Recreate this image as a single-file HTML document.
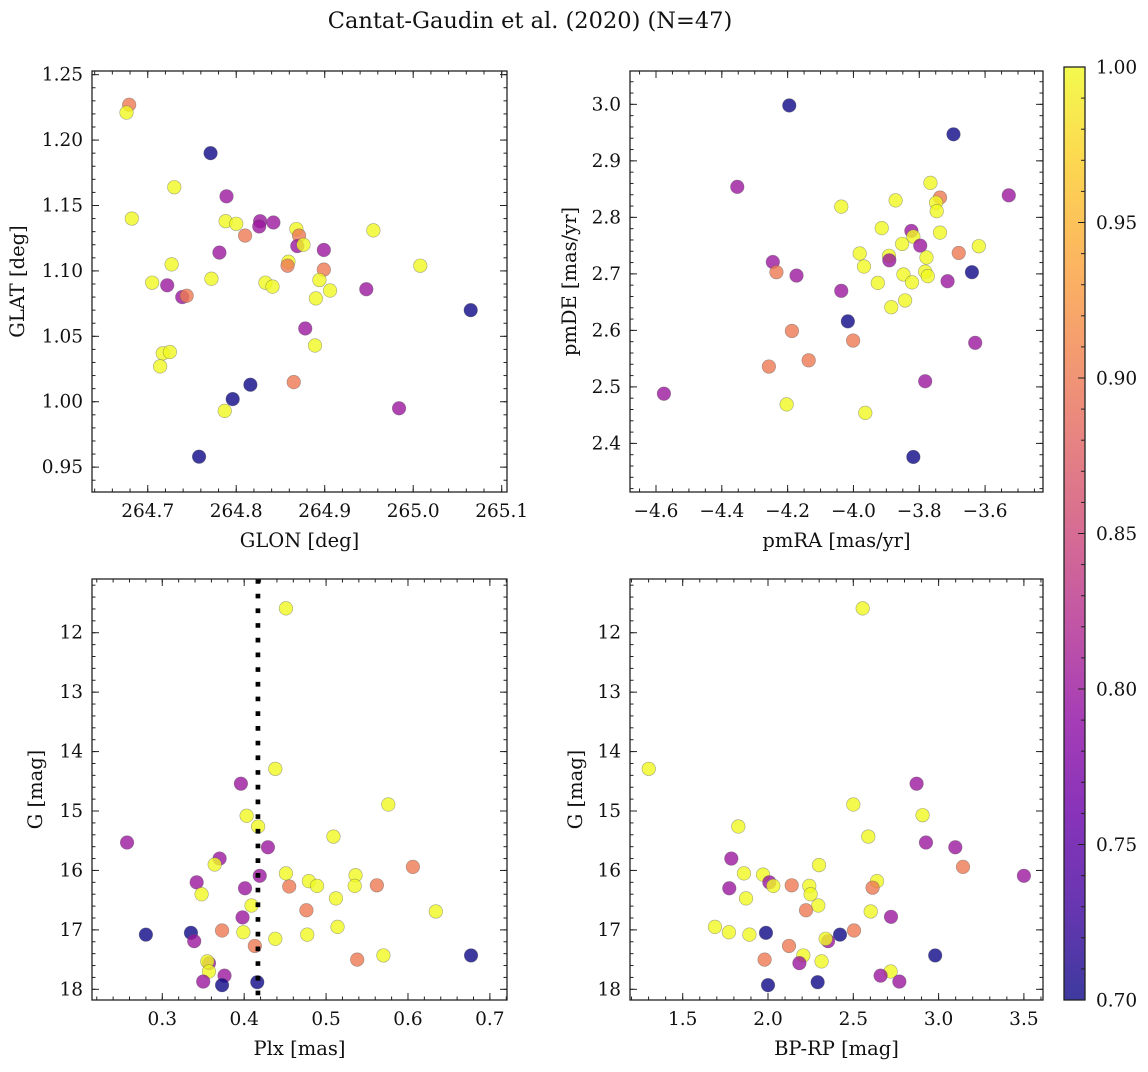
<!DOCTYPE html>
<html><head><meta charset="utf-8">
<style>
html,body{margin:0;padding:0;background:#fff;}
svg text{font-family:"DejaVu Serif","Liberation Serif",serif;fill:#111;}
</style></head>
<body>
<svg id="fig" width="1148" height="1067" viewBox="0 0 1148 1067" xmlns="http://www.w3.org/2000/svg">
<defs>
<linearGradient id="plasma" x1="0" y1="1" x2="0" y2="0">
<stop offset="0" stop-color="#0d0887"/><stop offset="0.1" stop-color="#41049d"/><stop offset="0.2" stop-color="#6a00a8"/><stop offset="0.3" stop-color="#8f0da4"/><stop offset="0.4" stop-color="#b12a90"/><stop offset="0.5" stop-color="#cc4778"/><stop offset="0.6" stop-color="#e16462"/><stop offset="0.7" stop-color="#f2844b"/><stop offset="0.8" stop-color="#fca636"/><stop offset="0.9" stop-color="#fcce25"/><stop offset="1" stop-color="#f0f921"/>
</linearGradient>
</defs>
<text x="530" y="28" font-size="22.5" text-anchor="middle">Cantat-Gaudin et al. (2020) (N=47)</text>
</svg>
<script>
// ---- data ----
const glon = [264.679,264.676,264.771,264.730,264.789,264.682,264.788,264.800,264.827,264.826,264.842,264.810,264.868,264.871,264.869,264.876,264.899,264.781,264.727,264.859,264.858,265.008,264.899,264.955,264.705,264.722,264.772,264.833,264.841,264.894,264.906,264.739,264.744,264.947,264.890,265.065,264.878,264.889,264.717,264.725,264.714,264.816,264.865,264.796,264.787,264.984,264.758];
const glat = [1.227,1.221,1.190,1.164,1.157,1.140,1.138,1.136,1.138,1.134,1.137,1.127,1.132,1.127,1.119,1.120,1.116,1.114,1.105,1.107,1.104,1.104,1.101,1.131,1.091,1.089,1.094,1.091,1.088,1.093,1.085,1.080,1.081,1.086,1.079,1.070,1.056,1.043,1.037,1.038,1.027,1.013,1.015,1.002,0.993,0.995,0.958];
const prob1 = [0.9,1,0.7,1,0.8,1,1,1,0.8,0.8,0.8,0.9,1,0.9,0.8,1,0.8,0.8,1,1,0.9,1,0.9,1,1,0.8,1,1,1,1,1,0.8,0.9,0.8,1,0.7,0.8,1,1,1,1,0.7,0.9,0.7,1,0.8,0.7];

const pmra = [-4.195,-3.696,-4.353,-3.766,-3.737,-3.528,-3.872,-4.037,-3.749,-3.747,-3.914,-3.824,-3.818,-3.737,-3.852,-3.797,-3.619,-3.981,-3.892,-3.891,-3.778,-4.245,-4.234,-3.680,-3.968,-4.173,-3.848,-3.782,-3.774,-3.640,-3.926,-3.822,-3.714,-4.037,-3.843,-3.885,-4.017,-4.187,-4.001,-3.630,-4.257,-4.136,-3.782,-4.576,-4.203,-3.964,-3.818];
const pmde = [2.998,2.947,2.854,2.861,2.835,2.839,2.830,2.819,2.826,2.811,2.781,2.776,2.766,2.773,2.753,2.750,2.749,2.736,2.732,2.724,2.729,2.721,2.703,2.737,2.713,2.697,2.699,2.704,2.696,2.703,2.684,2.685,2.687,2.670,2.653,2.641,2.616,2.599,2.582,2.578,2.536,2.547,2.510,2.488,2.469,2.454,2.376];
const prob2 = [0.7,0.7,0.8,1,0.9,0.8,1,1,1,1,1,0.8,1,1,1,0.8,1,1,1,0.8,1,0.8,0.9,0.9,1,0.8,1,1,1,0.7,1,1,0.8,0.8,1,1,0.7,0.9,0.9,0.8,0.9,0.9,0.8,0.8,1,1,0.7];

const plx = [0.451,0.438,0.396,0.576,0.403,0.417,0.509,0.257,0.429,0.370,0.364,0.606,0.451,0.419,0.536,0.342,0.479,0.489,0.455,0.535,0.562,0.401,0.348,0.512,0.409,0.476,0.634,0.398,0.514,0.280,0.335,0.373,0.399,0.477,0.339,0.438,0.413,0.677,0.570,0.538,0.357,0.355,0.357,0.376,0.350,0.373,0.416];
const gmag3 = [11.59,14.29,14.54,14.89,15.08,15.26,15.43,15.53,15.61,15.80,15.90,15.94,16.05,16.09,16.08,16.20,16.18,16.26,16.27,16.26,16.25,16.30,16.40,16.47,16.59,16.67,16.69,16.79,16.95,17.08,17.05,17.01,17.04,17.08,17.19,17.15,17.27,17.43,17.43,17.50,17.56,17.53,17.70,17.77,17.87,17.93,17.88];
const prob3 = [1,1,0.8,1,1,1,1,0.8,0.8,0.8,1,0.9,1,0.8,1,0.8,1,1,0.9,1,0.9,0.8,1,1,1,0.9,1,0.8,1,0.7,0.7,0.9,1,1,0.8,1,0.9,0.7,1,0.9,0.8,1,1,0.8,0.8,0.7,0.7];
const plxLine = 0.4168;

const bprp = [2.555,1.301,2.871,2.500,2.906,1.826,2.588,2.926,3.098,1.785,2.299,3.143,1.859,3.500,1.971,2.008,2.031,1.773,2.139,2.242,2.639,2.613,2.250,1.871,2.295,2.223,2.602,2.721,1.689,1.771,1.891,1.988,2.422,2.504,2.352,2.338,2.123,2.980,2.207,1.980,2.184,2.314,2.719,2.660,2.770,2.000,2.291];
const gmag4 = [11.59,14.29,14.54,14.89,15.07,15.26,15.43,15.53,15.61,15.80,15.91,15.94,16.05,16.09,16.07,16.20,16.26,16.30,16.25,16.26,16.18,16.29,16.40,16.47,16.59,16.67,16.69,16.78,16.95,17.04,17.08,17.05,17.08,17.01,17.19,17.15,17.27,17.43,17.43,17.50,17.56,17.53,17.70,17.77,17.87,17.93,17.88];
const prob4 = [1,1,0.8,1,1,1,1,0.8,0.8,0.8,1,0.9,1,0.8,1,0.8,1,0.8,0.9,1,1,0.9,1,1,1,0.9,1,0.8,1,1,1,0.7,0.7,0.9,0.8,1,0.9,0.7,1,0.9,0.8,1,1,0.8,0.8,0.7,0.7];

const cbTicks = [0.70,0.75,0.80,0.85,0.90,0.95,1.00];

// ---- rendering ----
const NS = "http://www.w3.org/2000/svg";
const svg = document.getElementById('fig');
const TICKFS = 18.5, LABFS = 19.5;
function mk(tag, attrs, parent){
  const e = document.createElementNS(NS, tag);
  for (const k in attrs) e.setAttribute(k, attrs[k]);
  (parent||svg).appendChild(e);
  return e;
}
const stops=[[0,[13,8,135]],[0.1,[65,4,157]],[0.2,[106,0,168]],[0.3,[143,13,164]],[0.4,[177,42,144]],[0.5,[204,71,120]],[0.6,[225,100,98]],[0.7,[242,132,75]],[0.8,[252,166,54]],[0.9,[252,206,37]],[1,[240,249,33]]];
function plasma(t){
  t=Math.max(0,Math.min(1,t));
  for(let i=1;i<stops.length;i++){
    if(t<=stops[i][0]){
      const a=stops[i-1],b=stops[i],f=(t-a[0])/(b[0]-a[0]);
      const c=a[1].map((v,j)=>Math.round(v+(b[1][j]-v)*f));
      return 'rgb('+c.join(',')+')';
    }
  }
  return 'rgb(240,249,33)';
}
function fmt(v,d){ const s=v.toFixed(d); return s.replace('-','\u2212'); }

function panel(o){
  const g = mk('g',{});
  
  
  const sx = v => o.x0 + (v-o.xmin)/(o.xmax-o.xmin)*(o.x1-o.x0);
  const sy = o.invert ? (v => o.y0 + (v-o.ymin)/(o.ymax-o.ymin)*(o.y1-o.y0))
                      : (v => o.y1 - (v-o.ymin)/(o.ymax-o.ymin)*(o.y1-o.y0));
  const pg = mk('g',{},g);
  
  
  for(let i=0;i<o.xs.length;i++){
    const c = mk('circle',{cx:sx(o.xs[i]).toFixed(2),cy:sy(o.ys[i]).toFixed(2),r:6.8,fill:plasma((o.ps[i]-0.7)/0.3),'fill-opacity':0.8,stroke:'#555','stroke-opacity':0.5,'stroke-width':0.6},pg);
    
    
  }
  if(o.vline!==undefined){
    const l = mk('line',{x1:sx(o.vline),x2:sx(o.vline),y1:o.y0,y2:o.y1,stroke:'#000','stroke-width':4.7,'stroke-dasharray':'4.7 10'},g);
    
    
  }
  const fr = mk('rect',{x:o.x0,y:o.y0,width:o.x1-o.x0,height:o.y1-o.y0,fill:'none',stroke:'#222','stroke-width':1.3},g);
  
  
  const tg = mk('g',{stroke:'#222','stroke-width':1},g);
  const eps=1e-9;
  function eachTick(min,max,step,fn){
    const s=Math.ceil((min-eps)/step), e=Math.floor((max+eps)/step);
    for(let k=s;k<=e;k++) fn(+(k*step).toFixed(6));
  }
  eachTick(o.xmin,o.xmax,o.xminor,v=>{ const X=sx(v); mk('line',{x1:X,x2:X,y1:o.y1,y2:o.y1-3.5},tg); mk('line',{x1:X,x2:X,y1:o.y0,y2:o.y0+3.5},tg);});
  eachTick(o.ymin,o.ymax,o.yminor,v=>{ const Y=sy(v); mk('line',{x1:o.x0,x2:o.x0+3.5,y1:Y,y2:Y},tg); mk('line',{x1:o.x1,x2:o.x1-3.5,y1:Y,y2:Y},tg);});
  eachTick(o.xmin,o.xmax,o.xmajor,v=>{ const X=sx(v); mk('line',{x1:X,x2:X,y1:o.y1,y2:o.y1-7},tg); mk('line',{x1:X,x2:X,y1:o.y0,y2:o.y0+7},tg);
    const t=mk('text',{x:X,y:o.y1+25,'font-size':TICKFS,'text-anchor':'middle'},g); t.textContent=fmt(v,o.xd);
     });
  eachTick(o.ymin,o.ymax,o.ymajor,v=>{ const Y=sy(v); mk('line',{x1:o.x0,x2:o.x0+7,y1:Y,y2:Y},tg); mk('line',{x1:o.x1,x2:o.x1-7,y1:Y,y2:Y},tg);
    const t=mk('text',{x:o.x0-9,y:Y+6,'font-size':TICKFS,'text-anchor':'end'},g); t.textContent=fmt(v,o.yd);
     });
  const xl = mk('text',{x:(o.x0+o.x1)/2,y:o.y1+55,'font-size':LABFS,'text-anchor':'middle'},g);
  xl.textContent=o.xlabel;
   
  const cy=(o.y0+o.y1)/2;
  const yl = mk('text',{x:o.ylx,y:cy,'font-size':LABFS,'text-anchor':'middle',transform:'rotate(-90 '+o.ylx+' '+cy+')'},g);
  yl.textContent=o.ylabel;
   
}

panel({name:'glon-glat-panel',xs:glon,ys:glat,ps:prob1,x0:92,x1:507,y0:71,y1:492,xmin:264.637,xmax:265.106,ymin:0.931,ymax:1.2528,xmajor:0.1,xminor:0.02,ymajor:0.05,yminor:0.01,xd:1,yd:2,xlabel:'GLON [deg]',ylabel:'GLAT [deg]',ylx:24});
panel({name:'pm-panel',xs:pmra,ys:pmde,ps:prob2,x0:630,x1:1043,y0:71,y1:492,xmin:-4.679,xmax:-3.424,ymin:2.314,ymax:3.059,xmajor:0.2,xminor:0.05,ymajor:0.1,yminor:0.02,xd:1,yd:1,xlabel:'pmRA [mas/yr]',ylabel:'pmDE [mas/yr]',ylx:576});
panel({name:'plx-g-panel',xs:plx,ys:gmag3,ps:prob3,vline:plxLine,invert:true,x0:92,x1:507,y0:579,y1:1000,xmin:0.2142,xmax:0.7209,ymin:11.096,ymax:18.18,xmajor:0.1,xminor:0.02,ymajor:1,yminor:0.2,xd:1,yd:0,xlabel:'Plx [mas]',ylabel:'G [mag]',ylx:42});
panel({name:'cmd-panel',xs:bprp,ys:gmag4,ps:prob4,invert:true,x0:630,x1:1043,y0:579,y1:1000,xmin:1.191,xmax:3.612,ymin:11.096,ymax:18.18,xmajor:0.5,xminor:0.1,ymajor:1,yminor:0.2,xd:1,yd:0,xlabel:'BP-RP [mag]',ylabel:'G [mag]',ylx:582});

const cb = mk('g',{});


const cx0=1064, cx1=1085, cy0=67, cy1=1000;
mk('rect',{x:cx0,y:cy0,width:cx1-cx0,height:cy1-cy0,fill:'url(#plasma)','fill-opacity':0.8},cb);
mk('rect',{x:cx0,y:cy0,width:cx1-cx0,height:cy1-cy0,fill:'none',stroke:'#222','stroke-width':1.3},cb);
const cyv = v => cy1 - (v-0.7)/0.3*(cy1-cy0);
for(let k=70;k<=100;k++){ const Y=cyv(k/100); mk('line',{x1:cx1,x2:cx1-4,y1:Y,y2:Y,stroke:'#222','stroke-width':1},cb); }
cbTicks.forEach(v=>{ const Y=cyv(v); mk('line',{x1:cx1,x2:cx1-7,y1:Y,y2:Y,stroke:'#222','stroke-width':1},cb);
  const t=mk('text',{x:1096,y:Y+6.5,'font-size':TICKFS},cb); t.textContent=v.toFixed(2);
   });
</script>
</body></html>
